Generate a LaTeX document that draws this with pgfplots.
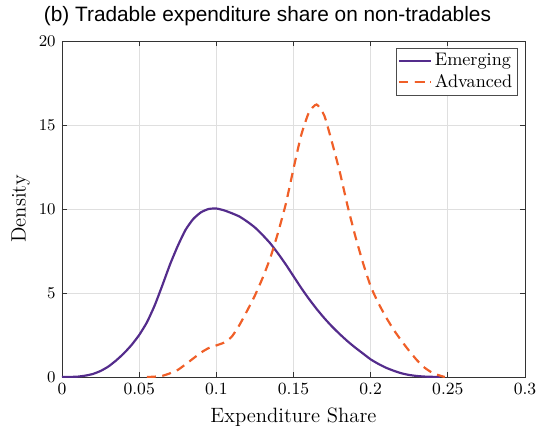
\documentclass[border=0pt]{standalone}
\usepackage{pgfplots}
\pgfplotsset{compat=1.18}
\usepackage{fontspec}
\newfontfamily\titlefont{Liberation Sans}
\definecolor{emerg}{RGB}{84,44,140}
\definecolor{adv}{RGB}{240,95,40}
\begin{document}
\begin{tikzpicture}[x=1pt,y=1pt]
\useasboundingbox (-34.1,-28.6) rectangle (262.9,207.35);
\begin{axis}[
  at={(0,0)}, anchor=south west,
  scale only axis, width=254.65pt, height=184.8pt,
  xmin=0, xmax=0.3, ymin=0, ymax=20,
  xtick={0,0.05,0.1,0.15,0.2,0.25,0.3},
  xticklabels={0,0.05,0.1,0.15,0.2,0.25,0.3},
  ytick={0,5,10,15,20},
  tick align=inside, tick pos=both,
  major tick length=3pt,
  grid=major,
  grid style={gray!25, line width=0.4pt},
  axis line style={black!80, line width=0.5pt},
  tick style={black!80, line width=0.5pt},
  xlabel={Expenditure Share}, ylabel={Density},
  label style={font=\fontsize{11.4}{13}\selectfont},
  ticklabel style={font=\fontsize{9.4}{11}\selectfont},
  xlabel style={yshift=0pt},
  ylabel style={yshift=-2pt},
  legend style={at={(0.985,0.98)}, anchor=north east, font=\fontsize{10}{12}\selectfont,
    draw=black!70, line width=0.5pt, inner sep=1pt, row sep=-1pt},
  legend cell align=left,
]
\addplot[emerg, line width=1.2pt, smooth, tension=0.35] coordinates {
(0,0) (0.005,0.005) (0.01,0.02) (0.015,0.08) (0.02,0.18) (0.025,0.36) (0.03,0.62)
(0.035,0.98) (0.04,1.4) (0.045,1.9) (0.05,2.5) (0.055,3.25) (0.06,4.25) (0.065,5.45)
(0.07,6.7) (0.075,7.8) (0.08,8.75) (0.085,9.4) (0.09,9.8) (0.095,10.0) (0.1,10.03)
(0.105,9.92) (0.11,9.75) (0.115,9.55) (0.12,9.25) (0.125,8.9) (0.13,8.45) (0.135,7.95)
(0.14,7.35) (0.145,6.7) (0.15,6.0) (0.155,5.3) (0.16,4.65) (0.165,4.05) (0.17,3.5)
(0.175,3.0) (0.18,2.55) (0.185,2.13) (0.19,1.75) (0.195,1.4) (0.2,1.05) (0.205,0.78)
(0.21,0.55) (0.215,0.37) (0.22,0.22) (0.225,0.12) (0.23,0.06) (0.235,0.025)
(0.24,0.01) (0.245,0)
};
\addlegendentry{Emerging}
\addplot[adv, line width=1.2pt, dash pattern=on 5pt off 3.5pt, smooth, tension=0.35] coordinates {
(0.055,0) (0.06,0.02) (0.065,0.07) (0.07,0.22) (0.075,0.42) (0.08,0.75) (0.085,1.1)
(0.09,1.45) (0.095,1.72) (0.1,1.88) (0.105,2.05) (0.11,2.4) (0.115,3.1) (0.12,3.95)
(0.125,4.85) (0.13,5.9) (0.135,7.1) (0.14,8.6) (0.145,10.3) (0.15,12.4) (0.155,14.4)
(0.16,15.75) (0.165,16.22) (0.17,15.55) (0.175,13.95) (0.18,12.2) (0.185,10.2)
(0.19,8.4) (0.195,6.8) (0.2,5.4) (0.205,4.4) (0.21,3.55) (0.215,2.8) (0.22,2.15)
(0.225,1.55) (0.23,1.0) (0.235,0.55) (0.24,0.25) (0.245,0.08) (0.248,0)
};
\addlegendentry{Advanced}
\end{axis}
\node[font=\titlefont\fontsize{11.45}{13}\selectfont] at (113,198.5) {(b) Tradable expenditure share on non-tradables};
\end{tikzpicture}
\end{document}
